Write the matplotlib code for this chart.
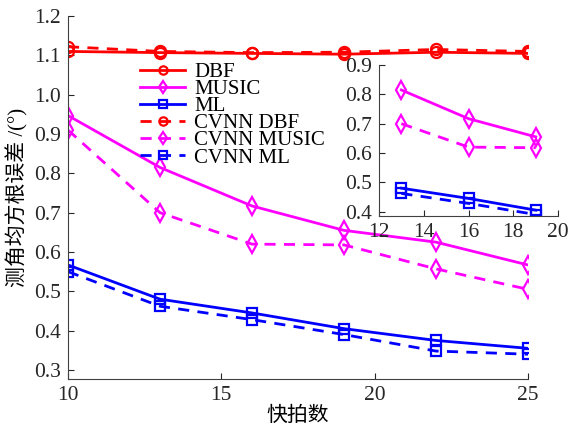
import numpy as np
import matplotlib
matplotlib.use("Agg")
import matplotlib.pyplot as plt

plt.rcParams['font.family'] = ['Liberation Serif', 'Noto Sans CJK SC']

snap = [10, 13, 16, 19, 22, 25]
dbf = [1.110, 1.107, 1.105, 1.103, 1.108, 1.105]
music = [0.947, 0.815, 0.717, 0.655, 0.625, 0.567]
ml = [0.567, 0.480, 0.445, 0.405, 0.375, 0.355]
cv_dbf = [1.122, 1.110, 1.107, 1.108, 1.115, 1.110]
cv_music = [0.910, 0.700, 0.620, 0.618, 0.557, 0.505]
cv_ml = [0.550, 0.462, 0.428, 0.390, 0.348, 0.340]

names = ['DBF', 'MUSIC', 'ML', 'CVNN DBF', 'CVNN MUSIC', 'CVNN ML']
series = [dbf, music, ml, cv_dbf, cv_music, cv_ml]
colors = ['#ff0000', '#ff00ff', '#0000ff'] * 2
markers = ['o', 'd', 's'] * 2
sizes = [8, 9, 7] * 2
styles = ['-'] * 3 + ['--'] * 3


def style_ax(ax):
    for s in ['top', 'right']:
        ax.spines[s].set_visible(False)
    for s in ['left', 'bottom']:
        ax.spines[s].set_color('#404040')
        ax.spines[s].set_linewidth(0.8)
    ax.tick_params(direction='in', length=4, labelsize=15.5, colors='#262626', pad=5)


def draw(ax, xs, sl, labels=True):
    for y, n, c, m, s, ls in zip(series, names, colors, markers, sizes, styles):
        ax.plot(xs, np.asarray(y)[sl], ls, color=c, marker=m, mfc='none', mec=c,
                ms=s, mew=1.6, lw=2, label=n if labels else None,
                dashes=(4, 3) if ls == '--' else (None, None))


fig = plt.figure(figsize=(5.69, 4.28), dpi=100)
ax = fig.add_axes([0.1195, 0.1145, 0.8085, 0.848])
draw(ax, snap, slice(0, 6))
ax.set_xlim(10, 25)
ax.set_ylim(0.277, 1.2)
ax.set_xticks([10, 15, 20, 25])
ax.set_yticks(np.arange(0.3, 1.21, 0.1))
ax.set_yticklabels(['%.1f' % v for v in np.arange(0.3, 1.21, 0.1)])
style_ax(ax)
ax.set_xlabel('快拍数', fontsize=15, labelpad=1)
ax.set_ylabel('测角均方根误差 /(°)', fontsize=15, labelpad=4)
leg = ax.legend(loc='upper left', bbox_to_anchor=(0.157, 0.872), frameon=False,
                fontsize=15, handlelength=2.15, handletextpad=0.45,
                labelspacing=-0.12, borderaxespad=0, borderpad=0)
for h in leg.get_lines():
    h.set_markersize(6)

ins = fig.add_axes([0.666, 0.4953, 0.315, 0.3527])
draw(ins, snap[1:4], slice(1, 4), labels=False)
ins.set_xlim(12, 20)
ins.set_ylim(0.385, 0.9)
ins.set_xticks([12, 14, 16, 18, 20])
ins.set_yticks([0.4, 0.5, 0.6, 0.7, 0.8, 0.9])
ins.set_yticklabels(['0.4', '0.5', '0.6', '0.7', '0.8', '0.9'])
style_ax(ins)
ins.patch.set_alpha(0)

fig.savefig('out.png', dpi=100)
